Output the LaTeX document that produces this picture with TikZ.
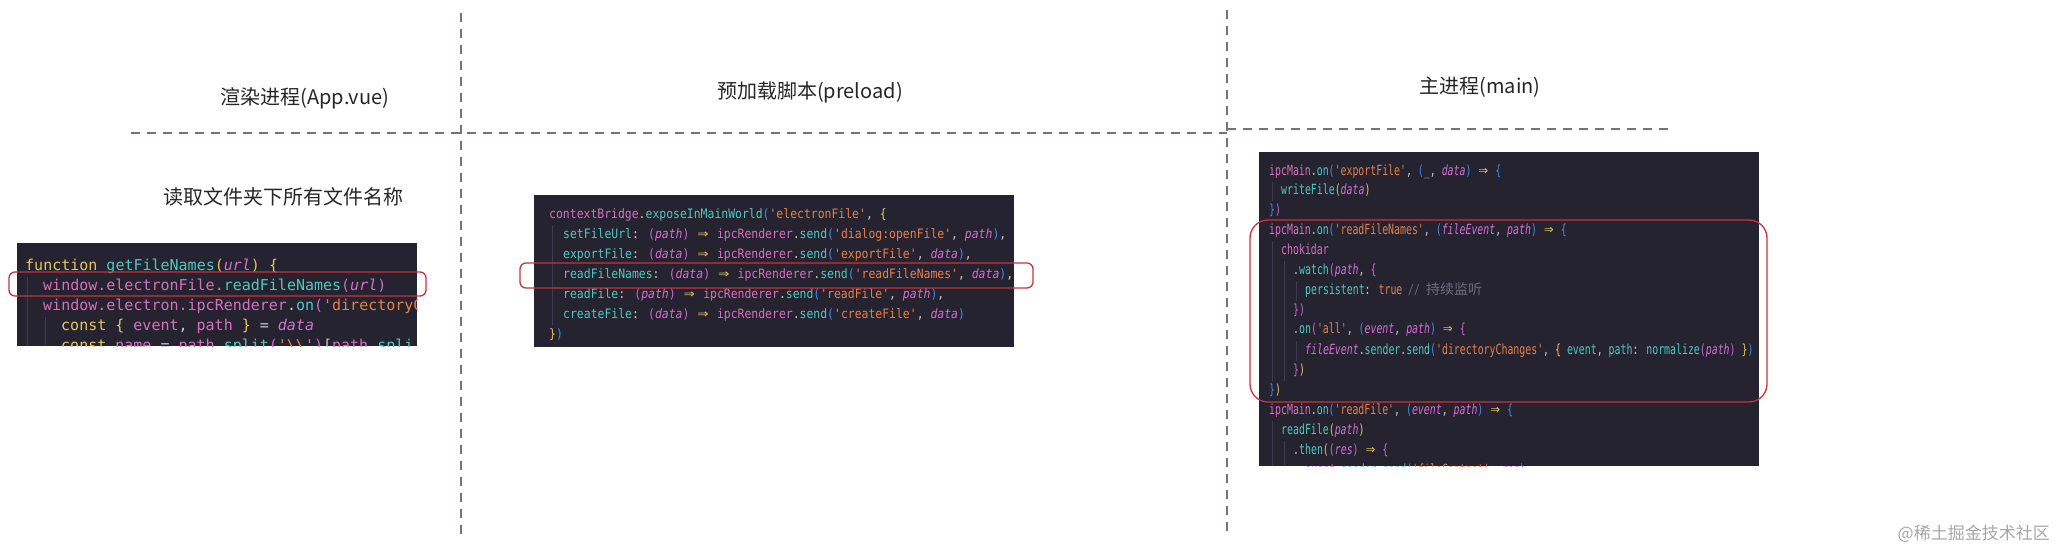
\documentclass[tikz,border=0pt]{standalone}
\usepackage{fontspec}
\usepackage{graphicx}
\newfontfamily\cjk{Noto Sans CJK SC}
\newfontfamily\codeA{DejaVu Sans Mono}
\newfontfamily\codeB[FakeStretch=0.88]{DejaVu Sans Mono}
\newfontfamily\codeC[FakeStretch=0.706]{DejaVu Sans Mono}
\definecolor{cbg}{HTML}{25232F}
\definecolor{cpink}{HTML}{D86FBE}
\definecolor{cteal}{HTML}{4EC9C0}
\definecolor{corange}{HTML}{E8804A}
\definecolor{cyellow}{HTML}{E5C75C}
\definecolor{cblue}{HTML}{3B8EE8}
\definecolor{cital}{HTML}{D46ED6}
\definecolor{cmag}{HTML}{C869D5}
\definecolor{cwhite}{HTML}{C8C8D0}
\definecolor{cgray}{HTML}{6E6C7E}
\definecolor{cguide}{HTML}{3E3C4E}
\definecolor{dashcol}{HTML}{7D7070}
\definecolor{redbox}{HTML}{C8323C}
\newcommand\cP[1]{\textcolor{cpink}{#1}}
\newcommand\cT[1]{\textcolor{cteal}{#1}}
\newcommand\cO[1]{\textcolor{corange}{#1}}
\newcommand\cY[1]{\textcolor{cyellow}{#1}}
\newcommand\cB[1]{\textcolor{cblue}{#1}}
\newcommand\cI[1]{\textcolor{cital}{\itshape #1}}
\newcommand\cM[1]{\textcolor{cmag}{#1}}
\newcommand\cG[1]{\textcolor{cgray}{\itshape #1}}
\newcommand\arr{\textcolor{cyellow}{\ooalign{\phantom{==}\cr\hidewidth\scalebox{1.6}[1.15]{⇒}\hidewidth\cr}}}
\tikzset{
  sep/.style={draw=dashcol, line width=1.2pt, dash pattern=on 9pt off 7pt},
  title/.style={font=\cjk\fontsize{20}{24}\selectfont, text=black!85, inner sep=0},
  codebg/.style={fill=cbg, draw=none},
  cline/.style={anchor=west, inner sep=0, text height=10pt, text depth=3pt, text=cwhite},
  hl/.style={draw=redbox, line width=1.3pt},
  guide/.style={draw=cguide, line width=0.8pt},
  wm/.style={font=\cjk\fontsize{17}{20}\selectfont, text=black!35, inner sep=0}
}
\begin{document}
\begin{tikzpicture}[x=1pt,y=-1pt]
\useasboundingbox (0,0) rectangle (2058,551);
% separators
\draw[sep] (461,13) -- (461,541);
\draw[sep] (1227,10) -- (1227,538);
\draw[sep] (131,133) -- (1227,133);
\draw[sep] (1227,129) -- (1673,129);
% titles
\node[title] (t1) at (305,98) {渲染进程(App.vue)};
\node[title] (t2) at (810,92) {预加载脚本(preload)};
\node[title] (t3) at (1480,87) {主进程(main)};
\node[title] (t4) at (283,197) {读取文件夹下所有文件名称};
% ---------- box 1 ----------
\fill[codebg] (17,243) rectangle (417,346);
\begin{scope}
\clip (17,243) rectangle (417,346);
\draw[guide] (27,277) -- (27,346);
\draw[guide] (45,317) -- (45,346);
\begin{scope}[every node/.style={cline, font=\codeA\fontsize{15}{18}\selectfont}]
\node (a1) at (25,267) {\cY{function} \cT{getFileNames}\cY{(}\cI{url}\cY{)} \cY{\{}};
\node (a2) at (43,287) {\cP{window.electronFile.}\cT{readFileNames}\cM{(}\cI{url}\cM{)}};
\node (a3) at (43,307) {\cP{window.electron.ipcRenderer}.\cT{on}\cM{(}\cO{'directoryC}};
\node (a4) at (61,327) {\cY{const} \cY{\{} \cP{event}, \cP{path} \cY{\}} = \cI{data}};
\node (a5) at (61,347) {\cY{const} \cP{name} = \cP{path}.\cT{split}\cM{(}\cO{'\textbackslash\textbackslash'}\cM{)}[\cP{path}.\cT{spli}};
\end{scope}
\end{scope}
\draw[hl, rounded corners=6pt] (9,272) rectangle (426,296);
% ---------- box 2 ----------
\fill[codebg] (534,195) rectangle (1014,347);
\draw[guide] (552,225) -- (552,325);
\begin{scope}[every node/.style={cline, font=\codeB\fontsize{13}{16}\selectfont}]
\node (b1) at (549,215) {\cP{contextBridge}.\cT{exposeInMainWorld}\cB{(}\cO{'electronFile'}, \cY{\{}};
\node (b2) at (563,235) {\cT{setFileUrl}: \cM{(}\cI{path}\cM{)} \arr{} \cP{ipcRenderer}.\cT{send}\cB{(}\cO{'dialog:openFile'}, \cI{path}\cB{)},};
\node (b3) at (563,255) {\cT{exportFile}: \cM{(}\cI{data}\cM{)} \arr{} \cP{ipcRenderer}.\cT{send}\cB{(}\cO{'exportFile'}, \cI{data}\cB{)},};
\node (b4) at (563,275) {\cT{readFileNames}: \cM{(}\cI{data}\cM{)} \arr{} \cP{ipcRenderer}.\cT{send}\cB{(}\cO{'readFileNames'}, \cI{data}\cB{)},};
\node (b5) at (563,295) {\cT{readFile}: \cM{(}\cI{path}\cM{)} \arr{} \cP{ipcRenderer}.\cT{send}\cB{(}\cO{'readFile'}, \cI{path}\cB{)},};
\node (b6) at (563,315) {\cT{createFile}: \cM{(}\cI{data}\cM{)} \arr{} \cP{ipcRenderer}.\cT{send}\cB{(}\cO{'createFile'}, \cI{data}\cB{)}};
\node (b7) at (549,335) {\cY{\}}\cB{)}};
\end{scope}
\draw[hl, rounded corners=6pt] (520,263) rectangle (1033,288);
% ---------- box 3 ----------
\fill[codebg] (1259,152) rectangle (1759,466);
\begin{scope}
\clip (1259,152) rectangle (1759,466);
\draw[guide] (1272,182) -- (1272,201);
\draw[guide] (1272,241) -- (1272,381);
\draw[guide] (1284,261) -- (1284,381);
\draw[guide] (1296,281) -- (1296,301);
\draw[guide] (1296,341) -- (1296,361);
\draw[guide] (1272,421) -- (1272,466);
\draw[guide] (1284,441) -- (1284,466);
\begin{scope}[every node/.style={cline, font=\codeC\fontsize{14}{17}\selectfont}]
\node (c1) at (1269,172) {\cP{ipcMain}.\cT{on}\cB{(}\cO{'exportFile'}, \cB{(}\cP{\_}, \cI{data}\cB{)} \arr{} \cB{\{}};
\node (c2) at (1281,191) {\cT{writeFile}\cY{(}\cI{data}\cY{)}};
\node (c3) at (1269,211) {\cB{\}}\cM{)}};
\node (c4) at (1269,231) {\cP{ipcMain}.\cT{on}\cB{(}\cO{'readFileNames'}, \cB{(}\cI{fileEvent}, \cI{path}\cB{)} \arr{} \cB{\{}};
\node (c5) at (1281,251) {\cP{chokidar}};
\node (c6) at (1293,271) {.\cT{watch}\cM{(}\cI{path}, \cM{\{}};
\node (c7) at (1305,291) {\cT{persistent}: \cO{true} \cG{// {\cjk 持续监听}}};
\node (c8) at (1293,311) {\cM{\}}\cM{)}};
\node (c9) at (1293,330) {.\cT{on}\cM{(}\cO{'all'}, \cB{(}\cI{event}, \cI{path}\cB{)} \arr{} \cM{\{}};
\node (c10) at (1305,351) {\cI{fileEvent}.\cT{sender}.\cT{send}\cB{(}\cO{'directoryChanges'}, \cY{\{} \cT{event}, \cT{path}: \cT{normalize}\cM{(}\cI{path}\cM{)} \cY{\}}\cB{)}};
\node (c11) at (1293,371) {\cM{\}}\cY{)}};
\node (c12) at (1269,391) {\cB{\}}\cY{)}};
\node (c13) at (1269,411) {\cP{ipcMain}.\cT{on}\cB{(}\cO{'readFile'}, \cB{(}\cI{event}, \cI{path}\cB{)} \arr{} \cB{\{}};
\node (c14) at (1281,431) {\cT{readFile}\cY{(}\cI{path}\cY{)}};
\node (c15) at (1293,451) {.\cT{then}\cY{(}\cM{(}\cI{res}\cM{)} \arr{} \cM{\{}};
\node (c16) at (1305,471) {\cI{event}.\cT{sender}.\cT{send}\cB{(}\cO{'fileContent'}, \cI{res}\cB{)}};
\end{scope}
\end{scope}
\draw[hl, rounded corners=18pt] (1250,220) rectangle (1767,402);
% watermark
\node[wm, anchor=east] (w) at (2050,534) {@稀土掘金技术社区};
\end{tikzpicture}
\end{document}
